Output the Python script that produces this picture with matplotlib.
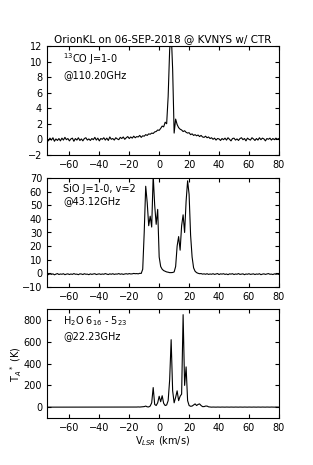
import numpy as np
import matplotlib
matplotlib.use("Agg")
import matplotlib.pyplot as plt
from matplotlib.ticker import MultipleLocator

# velocity channels (km/s), 1 km/s spacing
vel = np.arange(-75, 81, 1)

# 13CO J=1-0 spectrum (K)
co_vals = [
    0.1, -0.2, 0.15, -0.1, 0.2, -0.25, 0.05, -0.15, 0.1, -0.2,
    0.15, -0.1, 0.25, -0.05, 0.1, -0.2, 0.05, 0.15, -0.25, 0.1,
    -0.1, 0.2, -0.15, 0.05, -0.2, 0.1, 0.2, -0.1, 0.05, -0.15,
    0.1, -0.05, 0.25, -0.1, 0.15, -0.2, 0.1, 0.0, 0.2, -0.1,
    0.15, -0.15, 0.3, 0.0, 0.1, -0.1, 0.2, 0.05, -0.05, 0.25,
    0.1, 0.3, 0.0, 0.2, 0.35, 0.1, 0.3, 0.15, 0.4, 0.2,
    0.35, 0.3, 0.5, 0.25, 0.45, 0.4, 0.6, 0.5, 0.7, 0.65,
    0.8, 0.75, 0.95, 1.0, 1.2, 1.15, 1.4, 1.7, 1.6, 2.2,
    2.0, 5.5, 11.5, 14.0, 9.0, 0.8, 2.6, 1.9, 1.5, 1.3,
    1.2, 1.0, 1.1, 0.9, 0.8, 0.85, 0.6, 0.7, 0.5, 0.6,
    0.45, 0.55, 0.35, 0.5, 0.3, 0.25, 0.4, 0.2, 0.3, 0.1,
    0.2, 0.0, 0.15, -0.1, 0.1, 0.05, -0.15, 0.1, -0.05, 0.15,
    -0.1, 0.2, 0.0, -0.2, 0.1, 0.15, -0.1, 0.05, -0.15, 0.1,
    0.2, -0.05, 0.1, -0.2, 0.15, 0.0, -0.1, 0.2, 0.05, -0.15,
    0.1, -0.1, 0.2, -0.05, 0.15, 0.05, -0.2, 0.1, 0.0, 0.15,
    -0.1, 0.1, -0.05, 0.15, 0.0, 0.1,
]

# SiO J=1-0, v=2 spectrum (K)
sio_vals = [
    -0.5, -1.0, -0.3, -0.8, -0.4, -1.1, -0.6, -0.2, -0.9, -0.5,
    -0.7, -0.3, -1.0, -0.6, -0.4, -0.9, -0.5, -0.8, -0.2, -0.7,
    -0.6, -1.0, -0.4, -0.5, -0.9, -0.3, -0.7, -0.6, -1.0, -0.4,
    -0.8, -0.5, -0.3, -0.9, -0.6, -0.4, -0.8, -0.5, -0.7, -0.2,
    -0.6, -0.9, -0.4, -0.7, -0.3, -0.8, -0.5, -0.6, -0.2, -0.7,
    -0.4, -0.8, -0.5, -0.3, -0.6, -0.2, -0.5, -0.4, -0.1, -0.3,
    -0.2, -0.4, 0.0, -0.1, 3.0, 30.0, 64.0, 52.0, 35.0, 42.0,
    34.0, 72.0, 50.0, 36.0, 47.0, 12.0, 5.0, 3.0, 2.0, 1.5,
    1.0, 0.8, 0.5, 0.5, 0.6, 1.0, 5.0, 20.0, 27.0, 17.0,
    35.0, 43.0, 30.0, 53.0, 68.0, 58.0, 28.0, 12.0, 4.0, 1.5,
    0.5, 0.0, -0.3, -0.2, -0.6, -0.4, -0.7, -0.3, -0.8, -0.5,
    -0.7, -0.3, -0.8, -0.5, -0.2, -0.9, -0.4, -0.6, -0.3, -0.8,
    -0.5, -1.0, -0.4, -0.6, -0.3, -0.9, -0.5, -0.7, -0.2, -0.8,
    -0.6, -0.4, -1.0, -0.5, -0.7, -0.3, -0.8, -0.6, -0.4, -0.9,
    -0.5, -0.7, -0.3, -1.0, -0.6, -0.4, -0.8, -0.5, -0.2, -0.7,
    -0.6, -0.9, -0.4, -0.7, -0.5, -0.8,
]

# H2O 6_16 - 5_23 spectrum (K)
h2o_vals = [
    0, 0, 1, 0, 0, 1, 0, 0, 1, 0,
    0, 1, 0, 0, 1, 0, 0, 1, 0, 0,
    1, 0, 0, 1, 0, 0, 1, 0, 0, 1,
    0, 0, 1, 0, 0, 1, 0, 0, 1, 0,
    0, 1, 0, 0, 1, 0, 0, 1, 0, 0,
    1, 0, 0, 1, 0, 0, 1, 0, 1, 0,
    1, 2, 1, 2, 3, 5, 10, 3, 2, 10,
    40, 180, 25, 15, 40, 100, 50, 105, 35, 15,
    20, 60, 250, 620, 150, 40, 90, 150, 60, 100,
    120, 850, 200, 370, 60, 15, 8, 10, 20, 30,
    15, 25, 30, 15, 5, 5, 10, 10, 3, 1,
    0, 1, 0, 0, 1, 0, 0, 1, 0, 0,
    1, 0, 0, 1, 0, 0, 1, 0, 0, 1,
    0, 0, 1, 0, 0, 1, 0, 0, 1, 0,
    0, 1, 0, 0, 1, 0, 0, 1, 0, 0,
    1, 0, 0, 1, 0, 0,
]

plt.rcParams.update({
    "font.size": 7,
    "font.family": "DejaVu Sans",
    "xtick.direction": "in",
    "ytick.direction": "in",
    "xtick.top": True,
    "ytick.right": True,
    "xtick.major.size": 3,
    "ytick.major.size": 3,
    "axes.linewidth": 0.8,
})

fig = plt.figure(figsize=(3.13, 4.65), dpi=100)

panels = [
    (co_vals, (-2, 12), 2, "$^{13}$CO J=1-0\n@110.20GHz", 0.667),
    (sio_vals, (-10, 70), 10, "SiO J=1-0, v=2\n@43.12GHz", 0.383),
    (h2o_vals, (-100, 900), 200, "H$_2$O 6$_{16}$ - 5$_{23}$\n@22.23GHz", 0.101),
]

axs = []
for vals, ylim, ystep, label, bottom in panels:
    ax = fig.add_axes([0.150, bottom, 0.741, 0.234])
    ax.plot(vel, vals, color="k", lw=0.8)
    ax.set_xlim(-75, 80)
    ax.set_ylim(*ylim)
    ax.xaxis.set_major_locator(MultipleLocator(20))
    ax.yaxis.set_major_locator(MultipleLocator(ystep))
    ax.text(0.07, 0.95, label, transform=ax.transAxes, va="top", ha="left",
            fontsize=7, linespacing=1.3)
    axs.append(ax)

axs[0].set_title("OrionKL on 06-SEP-2018 @ KVNYS w/ CTR", fontsize=7.5, pad=3)
axs[2].set_ylabel(r"T$_A$$^*$ (K)")
axs[2].yaxis.set_label_coords(-0.10, 0.5)
axs[2].set_xlabel(r"V$_{LSR}$ (km/s)", labelpad=1)

fig.savefig("out.png", dpi=100)
